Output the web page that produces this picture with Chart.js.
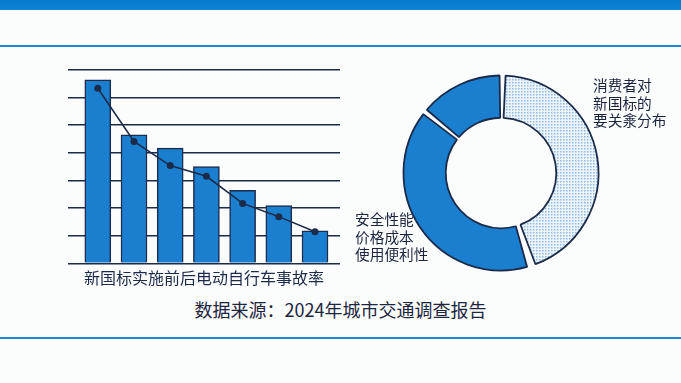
<!DOCTYPE html>
<html>
<head>
<meta charset="utf-8">
<script src="https://cdn.jsdelivr.net/npm/chart.js@4/dist/chart.umd.min.js"></script>
<style>
  html, body { margin: 0; padding: 0; }
  body {
    width: 681px; height: 383px; position: relative; overflow: hidden;
    background: #fbfcfc;
    font-family: "Noto Sans CJK SC", "Noto Sans", sans-serif;
    color: #1c2540;
  }
  .band { position: absolute; left: 0; top: 0; width: 681px; height: 10px; background: linear-gradient(#0a7ccd, #0d83d3); }
  .rule { position: absolute; left: 0; width: 681px; height: 2px; background: #1787d6; }
  #bar-wrap { position: absolute; left: 0; top: 60px; width: 360px; height: 230px; }
  #donut-wrap { position: absolute; left: 395px; top: 67px; width: 212px; height: 212px; }
  .label { position: absolute; font-size: 14.7px; line-height: 17.5px; white-space: nowrap; }
  #donut-title { left: 593px; top: 76px; }
  #donut-cats { left: 355px; top: 210px; }
  #source { position: absolute; left: 0; width: 681px; top: 297px; text-align: center; font-size: 18px; line-height: 25px; }
</style>
</head>
<body>
<div class="band"></div>
<div class="rule" style="top:45px"></div>
<div class="rule" style="top:337px"></div>

<div id="bar-wrap"><canvas id="barChart"></canvas></div>
<div id="donut-wrap"><canvas id="donutChart"></canvas></div>
<div class="label" id="donut-title"></div>
<div class="label" id="donut-cats"></div>
<div id="source">数据来源：2024年城市交通调查报告</div>

<script>
const barTitle = "新国标实施前后电动自行车事故率";
const periods = ["1", "2", "3", "4", "5", "6", "7"];
const accidentRate = [6.64, 4.65, 4.17, 3.5, 2.64, 2.09, 1.18];
const trendRate = [6.34, 4.41, 3.54, 3.15, 2.17, 1.69, 1.14];

const donutTitle = ["消费者对", "新国标的", "要关淾分布"];
const concernLabels = ["安全性能", "价格成本", "使用便利性"];
const concernShare = [45, 41, 14];

const navy = "#1c2b4a";
const blue = "#1b7fd0";

document.getElementById("donut-title").innerHTML = donutTitle.join("<br>");
document.getElementById("donut-cats").innerHTML = concernLabels.join("<br>");

// dotted fill for the first slice
function dotPattern() {
  const c = document.createElement("canvas");
  c.width = 3;
  c.height = 3;
  const g = c.getContext("2d");
  g.fillStyle = "#edf4fb";
  g.fillRect(0, 0, 3, 3);
  g.fillStyle = "#8dbbe6";
  g.fillRect(0, 0, 1.5, 1.5);
  return g.createPattern(c, "repeat");
}

new Chart(document.getElementById("barChart"), {
  data: {
    datasets: [
      {
        type: "line",
        order: 0,
        data: trendRate.map((v, i) => ({ x: i, y: v })),
        borderColor: navy,
        borderWidth: 1.6,
        pointRadius: 3.5,
        pointBackgroundColor: navy,
        pointBorderWidth: 0,
        tension: 0
      },
      {
        type: "bar",
        order: 1,
        data: accidentRate.map((v, i) => ({ x: i, y: v })),
        backgroundColor: blue,
        borderColor: navy,
        borderWidth: 1.5,
        barThickness: 26
      }
    ]
  },
  options: {
    responsive: true,
    maintainAspectRatio: false,
    animation: false,
    events: [],
    layout: { padding: { left: 68, right: 20, top: 10, bottom: 2.9 } },
    plugins: { legend: { display: false }, tooltip: { enabled: false } },
    scales: {
      x: {
        type: "linear",
        offset: false,
        bounds: "data",
        min: -0.823,
        max: 6.69,
        grid: { display: false, drawTicks: false },
        border: { display: false },
        ticks: { display: false },
        title: {
          display: true,
          text: barTitle,
          color: navy,
          padding: { top: 4.6, bottom: 0 },
          font: { family: "Noto Sans CJK SC", size: 16 }
        }
      },
      y: {
        min: 0,
        max: 7,
        ticks: { display: false, stepSize: 1 },
        grid: { color: navy, lineWidth: 1.5, drawTicks: false },
        border: { display: false }
      }
    }
  }
});

new Chart(document.getElementById("donutChart"), {
  type: "doughnut",
  data: {
    labels: concernLabels,
    datasets: [{
      data: concernShare,
      backgroundColor: [dotPattern(), blue, blue],
      borderColor: navy,
      borderWidth: 1.8,
      spacing: 5
    }]
  },
  options: {
    responsive: true,
    maintainAspectRatio: false,
    animation: false,
    events: [],
    radius: 95,
    cutout: 57,
    plugins: { legend: { display: false }, tooltip: { enabled: false } }
  }
});
</script>
</body>
</html>
